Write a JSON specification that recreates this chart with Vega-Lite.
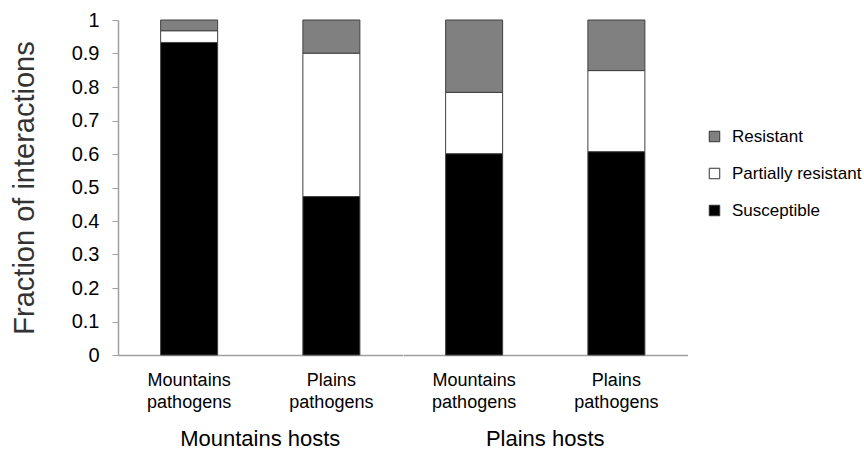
{
  "$schema": "https://vega.github.io/schema/vega-lite/v6.json",
  "background": "white",
  "padding": {"left": 10, "top": 10, "right": 5, "bottom": 5},
  "data": {"values": [
    {"host": "Mountains hosts", "pathogen": "Mountains pathogens", "response": "Susceptible", "fraction": 0.933},
    {"host": "Mountains hosts", "pathogen": "Mountains pathogens", "response": "Partially resistant", "fraction": 0.035},
    {"host": "Mountains hosts", "pathogen": "Mountains pathogens", "response": "Resistant", "fraction": 0.032},
    {"host": "Mountains hosts", "pathogen": "Plains pathogens", "response": "Susceptible", "fraction": 0.473},
    {"host": "Mountains hosts", "pathogen": "Plains pathogens", "response": "Partially resistant", "fraction": 0.428},
    {"host": "Mountains hosts", "pathogen": "Plains pathogens", "response": "Resistant", "fraction": 0.099},
    {"host": "Plains hosts", "pathogen": "Mountains pathogens", "response": "Susceptible", "fraction": 0.601},
    {"host": "Plains hosts", "pathogen": "Mountains pathogens", "response": "Partially resistant", "fraction": 0.183},
    {"host": "Plains hosts", "pathogen": "Mountains pathogens", "response": "Resistant", "fraction": 0.216},
    {"host": "Plains hosts", "pathogen": "Plains pathogens", "response": "Susceptible", "fraction": 0.607},
    {"host": "Plains hosts", "pathogen": "Plains pathogens", "response": "Partially resistant", "fraction": 0.242},
    {"host": "Plains hosts", "pathogen": "Plains pathogens", "response": "Resistant", "fraction": 0.151}
  ]},
  "transform": [
    {"calculate": "indexof(['Susceptible','Partially resistant','Resistant'], datum.response)", "as": "stackOrder"}
  ],
  "facet": {
    "column": {
      "field": "host",
      "type": "nominal",
      "title": null,
      "header": {
        "labelOrient": "bottom",
        "labelFontSize": 22,
        "labelFont": "Liberation Sans",
        "labelColor": "black",
        "labelPadding": 18
      }
    }
  },
  "spacing": 0,
  "spec": {
    "width": 284.5,
    "height": 335,
    "mark": {"type": "bar", "stroke": "#404040", "strokeWidth": 1, "width": 57},
    "encoding": {
      "x": {
        "field": "pathogen",
        "type": "nominal",
        "title": null,
        "scale": {"paddingInner": 0, "paddingOuter": 0},
        "axis": {
          "labelAngle": 0,
          "labelExpr": "split(datum.label, ' ')",
          "labelFontSize": 18,
          "labelFont": "Liberation Sans",
          "labelColor": "black",
          "labelPadding": 16,
          "labelLineHeight": 22,
          "ticks": false,
          "domainColor": "#a0a0a0",
          "domainWidth": 1.5
        }
      },
      "y": {
        "field": "fraction",
        "type": "quantitative",
        "stack": "zero",
        "scale": {"domain": [0, 1]},
        "title": "Fraction of interactions",
        "axis": {
          "values": [0, 0.1, 0.2, 0.3, 0.4, 0.5, 0.6, 0.7, 0.8, 0.9, 1],
          "format": ".1~f",
          "grid": false,
          "labelFontSize": 20,
          "labelFont": "Liberation Sans",
          "labelColor": "black",
          "labelPadding": 13,
          "tickColor": "#a0a0a0",
          "tickSize": 6,
          "domainColor": "#a0a0a0",
          "domainWidth": 1.5,
          "titleFontSize": 29,
          "titleFont": "Liberation Sans",
          "titleFontWeight": "normal",
          "titleColor": "#333333",
          "titlePadding": 32
        }
      },
      "color": {
        "field": "response",
        "type": "nominal",
        "scale": {
          "domain": ["Resistant", "Partially resistant", "Susceptible"],
          "range": ["#808080", "#ffffff", "#000000"]
        },
        "legend": {
          "title": null,
          "orient": "none",
          "legendX": 588,
          "legendY": 108,
          "symbolType": "square",
          "symbolSize": 110,
          "symbolStrokeColor": "#333333",
          "symbolStrokeWidth": 1,
          "labelFontSize": 17,
          "labelFont": "Liberation Sans",
          "labelColor": "black",
          "labelOffset": 9,
          "rowPadding": 19,
          "padding": 0
        }
      },
      "order": {"field": "stackOrder", "type": "quantitative"}
    }
  },
  "resolve": {"scale": {"x": "independent"}},
  "config": {"view": {"stroke": null}}
}
